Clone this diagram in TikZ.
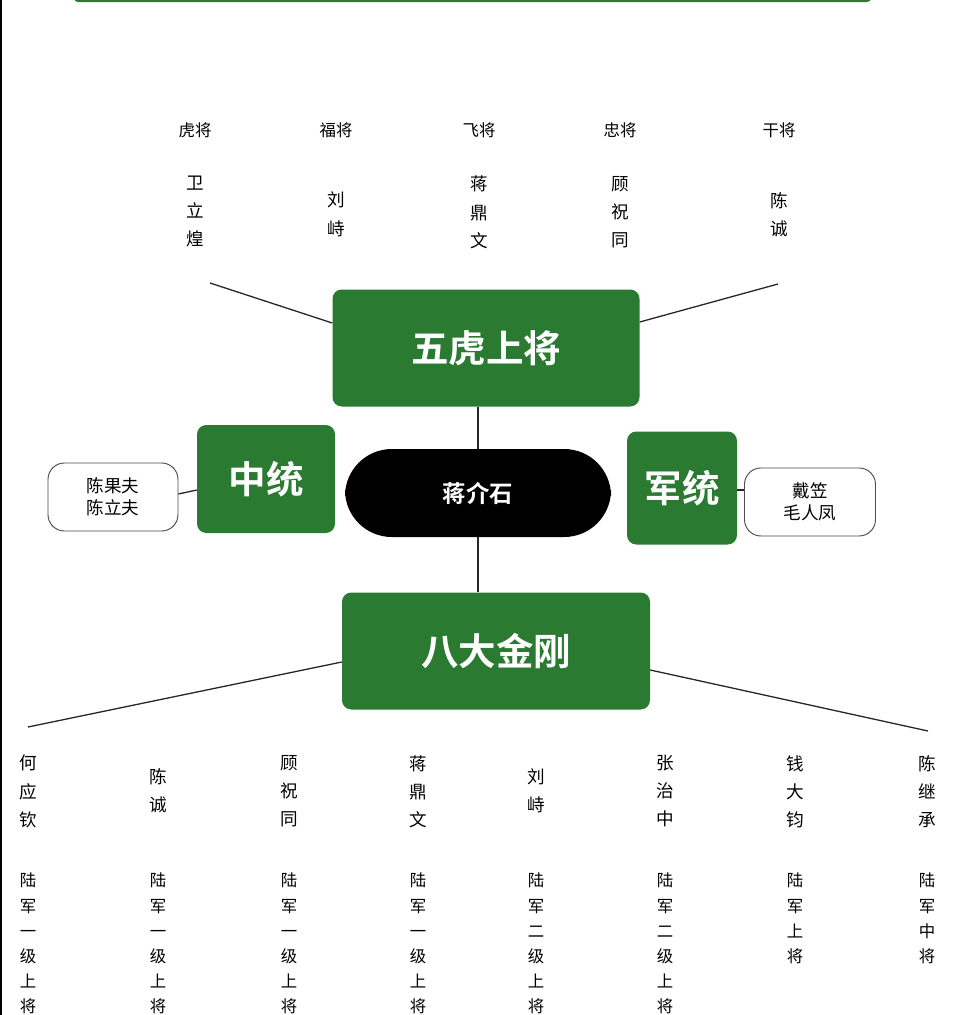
\documentclass[tikz,border=0pt]{standalone}
\usepackage{fontspec}
\setmainfont{Noto Sans CJK SC}[BoldFont={Noto Sans CJK SC Bold}]
\begin{document}
\begin{tikzpicture}[x=0.03cm,y=-0.03cm,
  gbox/.style={fill=gr,rounded corners=8pt,draw=none,text=white,font=\bfseries\fontsize{32}{36}\selectfont,inner sep=0pt},
  oval/.style={draw=black!70,line width=0.8pt,rounded corners=14pt,fill=white,align=center,font=\fontsize{15}{19}\selectfont,inner sep=0pt},
  small/.style={font=\fontsize{14}{16}\selectfont},
  vtext/.style={align=center,font=\fontsize{15}{24}\selectfont,inner sep=0pt,anchor=north},
  ln/.style={line width=1.1pt,black!85}]
\definecolor{gr}{HTML}{2A7A31}
\clip (0,0) rectangle (960,1015);
\useasboundingbox (0,0) rectangle (960,1015);
\fill[white] (0,0) rectangle (960,1015);
\draw[black,line width=2pt] (1,0) -- (1,1015);
\draw[gr,line width=2pt,rounded corners=3pt] (75,-10) -- (75,1) -- (870,1) -- (870,-10);
% main boxes
\node[gbox,minimum width=307*0.03cm,minimum height=117*0.03cm] (wh) at (486,348) {五虎上将};
\node[gbox,minimum width=138*0.03cm,minimum height=108*0.03cm] (zt) at (266,479) {中统};
\node[gbox,minimum width=110*0.03cm,minimum height=113*0.03cm] (jt) at (682,488) {军统};
\node[fill=black,rounded corners=40pt,text=white,minimum width=266*0.03cm,minimum height=88*0.03cm,inner sep=0pt,font=\bfseries\fontsize{20}{24}\selectfont] (jjs) at (478,493) {蒋介石};
\node[gbox,minimum width=308*0.03cm,minimum height=117*0.03cm] (bd) at (496,651) {八大金刚};
\node[oval,minimum width=130*0.03cm,minimum height=68*0.03cm] (cg) at (113,497) {陈果夫\\陈立夫};
\node[oval,minimum width=131*0.03cm,minimum height=68*0.03cm] (dl) at (810,502) {戴笠\\毛人凤};
% connectors
\coordinate (t1) at (210,283); \coordinate (t2) at (778,284);
\coordinate (b1) at (28,727); \coordinate (b2) at (928,731);
\draw[ln] (wh.west |- 0,323) -- (t1);
\draw[ln] (wh.east |- 0,322) -- (t2);
\draw[ln] (wh.south -| 478,0) -- (jjs.north);
\draw[ln] (jjs.south) -- (bd.north -| 478,0);
\draw[ln] (zt.west |- 0,490) -- (cg.east |- 0,494);
\draw[ln] (jt.east |- 0,490) -- (dl.west |- 0,490);
\draw[ln] (bd.west |- 0,662) -- (b1);
\draw[ln] (bd.east |- 0,670) -- (b2);
% top labels
\foreach \x/\t in {195/虎将,336/福将,479/飞将,620/忠将,779/干将}
  \node[small] (l\x) at (\x,130) {\t};
\node[vtext] (n1) at (195,176) {卫\\立\\煌};
\node[vtext] (n2) at (336,192) {刘\\峙};
\node[vtext] (n3) at (479,176) {蒋\\鼎\\文};
\node[vtext] (n4) at (620,176) {顾\\祝\\同};
\node[vtext] (n5) at (779,192) {陈\\诚};
% bottom
\foreach \x/\t in {28/何\\应\\钦,289/顾\\祝\\同,418/蒋\\鼎\\文,665/张\\治\\中,795/钱\\大\\钧,927/陈\\继\\承}
  \node[vtext] (m\x) at (\x,755) {\t};
\foreach \x/\t in {158/陈\\诚,536/刘\\峙}
  \node[vtext] (m\x) at (\x,768) {\t};
\tikzset{rk/.style={align=center,font=\fontsize{14}{21.5}\selectfont,inner sep=0pt,anchor=north}}
\foreach \x/\t in {28/陆\\军\\一\\级\\上\\将,158/陆\\军\\一\\级\\上\\将,289/陆\\军\\一\\级\\上\\将,418/陆\\军\\一\\级\\上\\将,536/陆\\军\\二\\级\\上\\将,665/陆\\军\\二\\级\\上\\将,795/陆\\军\\上\\将,927/陆\\军\\中\\将}
  \node[rk] (r\x) at (\x,873) {\t};
\end{tikzpicture}
\end{document}
